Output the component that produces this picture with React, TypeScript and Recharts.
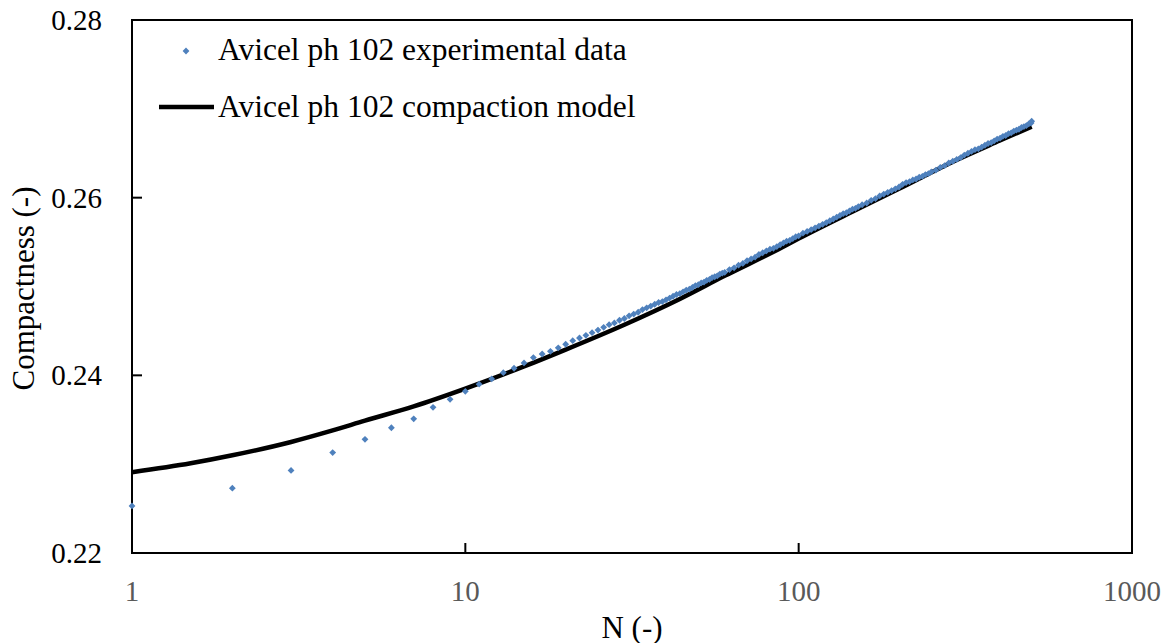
import { ComposedChart, Line, Scatter, XAxis, YAxis, Legend, ReferenceArea, Label } from 'recharts';

// experimental points (N = tap count)
const expN = [
  1, 2, 3, 4, 5, 6, 7, 8, 9, 10, 11, 12, 13, 14, 15, 16, 17, 18, 19, 20,
  21, 22, 23, 24, 25, 26, 27, 28, 29, 30, 31, 32, 33, 34, 35, 36, 37, 38, 39, 40,
  41, 42, 43, 44, 45, 46, 47, 48, 49, 50, 51, 52, 53, 54, 55, 56, 57, 58, 59, 60,
  62, 64, 66, 68, 70, 72, 74, 76, 78, 80, 82, 84, 86, 88, 90, 92, 94, 96, 98, 100,
  103, 106, 109, 112, 115, 118, 121, 124, 127, 130, 133, 136, 139, 142, 145, 148, 151,
  155, 160, 165, 170, 175, 180, 185, 190, 195, 200, 205, 210, 215, 220, 225, 230, 235, 240, 245, 250,
  258, 266, 274, 282, 290, 298, 306, 314, 322, 330, 338, 346, 354, 362, 370, 378, 386, 394, 402, 410,
  418, 426, 434, 442, 450, 458, 466, 474, 482, 490, 498, 500,
];
const expC = [
  0.2253, 0.2273, 0.2293, 0.2313, 0.2328, 0.2341, 0.2351, 0.2364, 0.2373, 0.2382,
  0.2390, 0.2396, 0.2403, 0.2408, 0.2414, 0.2420, 0.2424, 0.2427, 0.2431, 0.2435,
  0.2439, 0.2442, 0.2445, 0.2448, 0.2451, 0.2454, 0.2457, 0.2459, 0.2462, 0.2464,
  0.2467, 0.2469, 0.2471, 0.2474, 0.2476, 0.2478, 0.2480, 0.2482, 0.2483, 0.2485,
  0.2487, 0.2489, 0.2491, 0.2492, 0.2494, 0.2496, 0.2497, 0.2499, 0.2501, 0.2502,
  0.2504, 0.2505, 0.2507, 0.2508, 0.2510, 0.2511, 0.2512, 0.2514, 0.2515, 0.2516,
  0.2519, 0.2521, 0.2524, 0.2526, 0.2529, 0.2531, 0.2533, 0.2536, 0.2538, 0.2540,
  0.2542, 0.2543, 0.2545, 0.2547, 0.2549, 0.2551, 0.2552, 0.2554, 0.2556, 0.2557,
  0.2560, 0.2562, 0.2564, 0.2566, 0.2568, 0.2570, 0.2572, 0.2574, 0.2576, 0.2578,
  0.2580, 0.2582, 0.2583, 0.2585, 0.2587, 0.2588, 0.2590,
  0.2592, 0.2594, 0.2597, 0.2599, 0.2602, 0.2604, 0.2606, 0.2608, 0.2610, 0.2612,
  0.2615, 0.2617, 0.2618, 0.2620, 0.2621, 0.2623, 0.2624, 0.2626, 0.2627, 0.2629,
  0.2631, 0.2634, 0.2636, 0.2639, 0.2641, 0.2643, 0.2645, 0.2648, 0.2650, 0.2652,
  0.2654, 0.2655, 0.2657, 0.2659, 0.2661, 0.2662, 0.2664, 0.2666, 0.2667, 0.2669,
  0.2670, 0.2672, 0.2673, 0.2675, 0.2676, 0.2677, 0.2679, 0.2680, 0.2681, 0.2683,
  0.2684, 0.2686,
];

// compaction model curve
const modelN = [1, 1.5, 2, 3, 4, 5, 7, 10, 15, 20, 30, 44, 60, 87, 100, 150, 200, 300, 400, 500];
const modelC = [
  0.2291, 0.2301, 0.2310, 0.2325, 0.2338, 0.2349, 0.2365, 0.2385, 0.2410, 0.2429,
  0.2457, 0.2486, 0.2512, 0.2542, 0.2554, 0.2587, 0.2610, 0.2643, 0.2664, 0.2680,
];

const xTicks = [1, 10, 100, 1000];
const yTicks = [0.22, 0.24, 0.26, 0.28];

const expData = expN.map((n, i) => ({ n, c: expC[i] }));
const modelData = modelN.map((n, i) => ({ n, c: modelC[i] }));

const BLUE = '#4F81BD';
const FONT = '"Liberation Serif", "Times New Roman", serif';

function Diamond({ cx, cy }: any) {
  const r = 3.4;
  return <path d={`M${cx},${cy - r}L${cx + r},${cy}L${cx},${cy + r}L${cx - r},${cy}Z`} fill={BLUE} />;
}

function XTick({ x, y, payload }: any) {
  return (
    <g>
      <line x1={x} y1={y} x2={x} y2={y - 10} stroke="#000" strokeWidth={2} />
      <text x={x} y={y + 38} textAnchor="middle" dominantBaseline="central" fill="#595959" fontSize={29} fontFamily={FONT}>
        {payload.value}
      </text>
    </g>
  );
}

function YTick({ x, y, payload }: any) {
  return (
    <g>
      <line x1={x} y1={y} x2={x + 10} y2={y} stroke="#000" strokeWidth={2} />
      <text x={x - 30} y={y} textAnchor="end" dominantBaseline="central" fill="#000" fontSize={29} fontFamily={FONT}>
        {Number(payload.value).toFixed(2)}
      </text>
    </g>
  );
}

function XTitle(props: any) {
  const vb = props.viewBox || { x: 132, y: 553, width: 1000, height: 90 };
  return (
    <text x={vb.x + vb.width / 2} y={vb.y + 74} textAnchor="middle" dominantBaseline="central" fontSize={31} fontFamily={FONT} fill="#000">
      N (-)
    </text>
  );
}

function YTitle(props: any) {
  const vb = props.viewBox || { x: 0, y: 20, width: 132, height: 533 };
  const cx = vb.x + 23;
  const cy = vb.y + vb.height / 2 + 2;
  return (
    <text x={cx} y={cy} transform={`rotate(-90 ${cx} ${cy})`} textAnchor="middle" dominantBaseline="central" fontSize={31} fontFamily={FONT} fill="#000">
      Compactness (-)
    </text>
  );
}

function LegendBox() {
  return (
    <svg width={520} height={110} style={{ display: 'block' }}>
      <Diamond cx={36} cy={31} />
      <text x={68} y={40} fontSize={31.5} fontFamily={FONT} fill="#000">Avicel ph 102 experimental data</text>
      <line x1={9} y1={87} x2={64} y2={87} stroke="#000" strokeWidth={4.5} />
      <text x={68} y={97} fontSize={31.5} fontFamily={FONT} fill="#000">Avicel ph 102 compaction model</text>
    </svg>
  );
}

export default function App() {
  return (
    <div style={{ position: 'absolute', left: 0, top: 0, background: '#fff' }}>
      <ComposedChart width={1168} height={643} margin={{ top: 20, right: 36, left: 0, bottom: 0 }} style={{ fontFamily: FONT }}>
        <XAxis
          dataKey="n"
          type="number"
          scale="log"
          domain={[1, 1000]}
          ticks={xTicks}
          height={90}
          tickSize={0}
          tickMargin={0}
          tickLine={false}
          tick={<XTick />}
          axisLine={{ stroke: '#000', strokeWidth: 2 }}
          label={<Label content={<XTitle />} />}
        />
        <YAxis
          dataKey="c"
          type="number"
          domain={[0.22, 0.28]}
          ticks={yTicks}
          width={132}
          tickSize={0}
          tickMargin={0}
          tickLine={false}
          tick={<YTick />}
          axisLine={{ stroke: '#000', strokeWidth: 2 }}
          label={<Label content={<YTitle />} />}
        />
        <ReferenceArea x1={1} x2={1000} y1={0.22} y2={0.28} fill="none" stroke="#000" strokeWidth={2} ifOverflow="visible" />
        <Legend
          verticalAlign="middle"
          align="center"
          content={<LegendBox />}
          wrapperStyle={{ left: 150, top: 20, width: 520, height: 110 }}
        />
        <Line
          data={modelData}
          dataKey="c"
          name="Avicel ph 102 compaction model"
          type="monotone"
          stroke="#000"
          strokeWidth={4.5}
          dot={false}
          activeDot={false}
          isAnimationActive={false}
        />
        <Scatter
          data={expData}
          dataKey="c"
          name="Avicel ph 102 experimental data"
          fill={BLUE}
          shape={<Diamond />}
          isAnimationActive={false}
        />
      </ComposedChart>
    </div>
  );
}
